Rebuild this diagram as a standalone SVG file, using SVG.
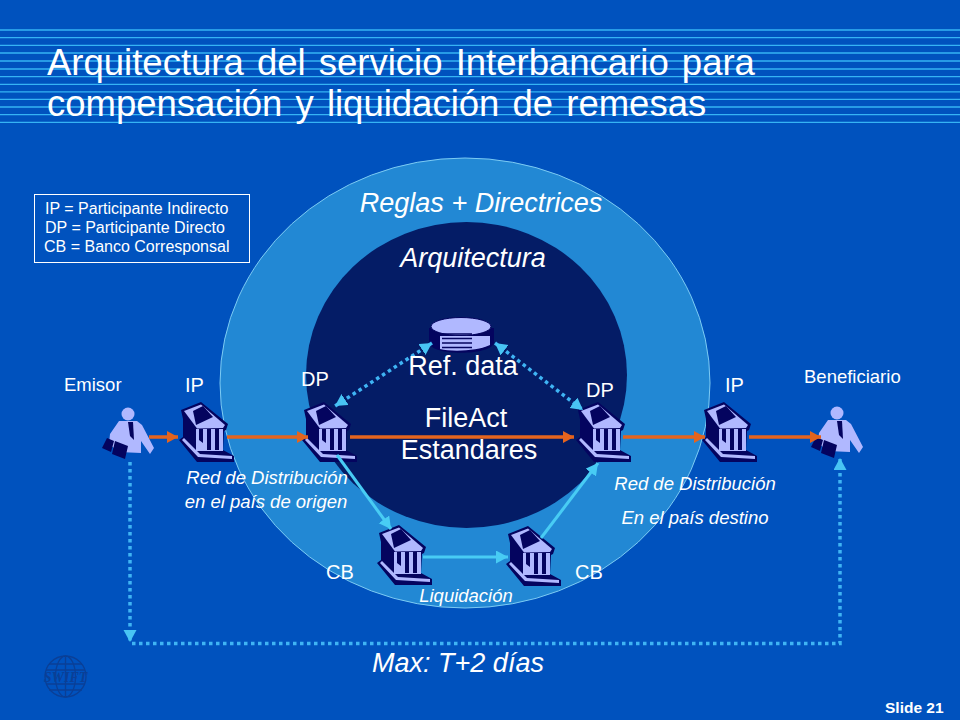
<svg xmlns="http://www.w3.org/2000/svg" width="960" height="720" viewBox="0 0 960 720">
<style>
text{font-family:"Liberation Sans",Arial,sans-serif;fill:#fff}
.st{stroke:#35B4F4;stroke-width:1.3}
.t{font-size:36.500px;word-spacing:3px}
.l{font-size:18.500px}
.n{font-size:20px}
.lg{font-size:16px}
.i{font-style:italic}
.m{text-anchor:middle}
.lab{font-size:18.500px;font-style:italic}
.big{font-size:27px}
.or{stroke:#E4641E;stroke-width:3.500;fill:none;marker-end:url(#ao)}
.cy{stroke:#48CCF4;stroke-width:3;fill:none;marker-end:url(#ac)}
.dot{stroke:#3FB4F4;stroke-width:3.500;fill:none;stroke-dasharray:3.500 3.500}
.dk{fill:#04045F}.lt{fill:#B0B8FF}
</style>
<defs>
<marker id="ao" markerUnits="userSpaceOnUse" markerWidth="13" markerHeight="13" refX="11" refY="6" orient="auto"><path d="M0 0L11 6L0 12z" fill="#E4641E"/></marker>
<marker id="ac" markerUnits="userSpaceOnUse" markerWidth="14" markerHeight="14" refX="12" refY="6.500" orient="auto"><path d="M0 0L12 6.500L0 13z" fill="#48CCF4"/></marker>
<marker id="ad" markerUnits="userSpaceOnUse" markerWidth="14" markerHeight="14" refX="12" refY="6.500" orient="auto-start-reverse"><path d="M0 0L12 6.500L0 13z" fill="#48C4F4"/></marker>
<g id="bank">
<path class="dk" d="M1 7L21 -1L48 21L46 27L44 28L43 47L54 53L54 59L17 59L-1 37L3 34L3 16z"/>
<path class="lt" d="M4 8L21 1.500L45 22L43 25L17 25.500z"/>
<path class="dk" d="M13 8L23 3L33 14L16 22z"/>
<path class="lt" d="M16 26H43V48H16z"/>
<path class="dk" d="M19 26H23V40L19 37zM27 26H31V47H27zM35 26H39V47H35z"/>
<path class="lt" d="M2 37L18 54L52 56L52 53L20 51L4 35z"/>
</g>
<g id="person">
<circle class="lt" cx="26" cy="6" r="6.500"/>
<path class="lt" d="M17 13L35 13L40 17L52 40L48 46L39 33L39 45L17 44L7 36L8 26z"/>
<path class="dk" d="M26 14L31 14L32 32L28 28z"/>
<path class="dk" d="M0 40L5 30L12 33L9 44z"/>
<path class="dk" d="M13 33L26 38L23 51L10 46z"/>
</g>
</defs>
<rect width="960" height="720" fill="#0052BE"/>
<g>
<path class="st" d="M0 30H960M0 37.700H960M0 45.400H960M0 53H960M0 61H960M0 69H960M0 76.700H960M0 84.300H960M0 91.800H960M0 99.300H960M0 107H960M0 114.700H960M0 122.300H960"/>
</g>
<text class="t" x="47" y="75">Arquitectura del servicio Interbancario para</text>
<text class="t" x="47" y="116">compensación y liquidación de remesas</text>
<g id="rings">
<ellipse cx="465" cy="383" rx="245" ry="225" fill="#2288D4" stroke="#7CCBF4" stroke-width="1"/>
<ellipse cx="466.500" cy="375" rx="160.500" ry="153" fill="#041C66"/>
</g>
<g id="legend">
<rect x="34.500" y="194.500" width="215" height="68" fill="none" stroke="#fff"/>
<text class="lg" x="45" y="214">IP = Participante Indirecto</text>
<text class="lg" x="45" y="233">DP = Participante Directo</text>
<text class="lg" x="44" y="252">CB = Banco Corresponsal</text>
</g>
<g id="db">
<path class="dk" d="M429 328V343C432 356 490 356 494 343V328z"/>
<path class="lt" d="M440 336H490V345C478 351 452 352 440 349z"/>
<ellipse cx="461" cy="326.500" rx="30" ry="9" fill="#B0B8FF" stroke="#04045F"/>
<path d="M442 334H472M442 338.500H472M442 343H472M442 347.500H472" stroke="#04045F" stroke-width="1.500"/>
</g>
<g id="bank-ip-l"><use href="#bank" x="180" y="403"/></g>
<g id="bank-dp-l"><use href="#bank" x="303" y="403"/></g>
<g id="bank-dp-r"><use href="#bank" x="577" y="403"/></g>
<g id="bank-ip-r"><use href="#bank" x="703" y="403"/></g>
<g id="bank-cb-l"><use href="#bank" x="378" y="526"/></g>
<g id="bank-cb-r"><use href="#bank" x="507" y="527"/></g>
<g id="emisor"><use href="#person" x="102" y="408"/><text class="l" x="64" y="391">Emisor</text></g>
<g id="beneficiario"><use href="#person" x="811" y="407"/><text class="l" x="804" y="383">Beneficiario</text></g>
<g id="connectors">
<path class="or" d="M149 437H178"/>
<path class="or" d="M227 437H308"/>
<path class="or" d="M350 437H574"/>
<path class="or" d="M623 437H705"/>
<path class="or" d="M749 437H821"/>
<path class="cy" d="M337 455L391 529"/>
<path class="cy" d="M423 557H508"/>
<path class="cy" d="M541 538L598 463"/>
<path class="dot" d="M432 343L335 406" marker-start="url(#ad)" marker-end="url(#ad)"/>
<path class="dot" d="M495 343L583 410" marker-start="url(#ad)" marker-end="url(#ad)"/>
<path class="dot" d="M130 462V642" marker-end="url(#ad)"/>
<path class="dot" d="M132 643.500H840V458" marker-end="url(#ad)"/>
</g>
<text class="n" x="185" y="392">IP</text>
<text class="n" x="725" y="392">IP</text>
<text class="n" x="301" y="386">DP</text>
<text class="n" x="586" y="397">DP</text>
<text class="n" x="326" y="579">CB</text>
<text class="n" x="575" y="579">CB</text>
<text class="i m big" x="481" y="212">Reglas + Directrices</text>
<text class="i m big" x="473" y="267">Arquitectura</text>
<text class="m big" x="463" y="375">Ref. data</text>
<text class="m big" x="466" y="427">FileAct</text>
<text class="m big" x="469" y="459">Estandares</text>
<text class="lab m" x="267" y="484">Red de Distribución</text>
<text class="lab m" x="266" y="508">en el país de origen</text>
<text class="lab m" x="695" y="490">Red de Distribución</text>
<text class="lab m" x="695" y="524">En el país destino</text>
<text class="lab m" x="466" y="602">Liquidación</text>
<text class="i m big" x="458" y="672">Max: T+2 días</text>
<g id="swift" fill="none" stroke="#0A3F96" stroke-width="1.300">
<circle cx="65.500" cy="676.500" r="20.500"/>
<ellipse cx="65.500" cy="676.500" rx="10" ry="20.500"/>
<path d="M65.500 656V697M49 664H82M46 670H85M46 684H85M49 690H82"/>
<text x="65.500" y="682" text-anchor="middle" style="font-family:'Liberation Serif',serif;font-size:14px;font-style:italic;font-weight:bold;fill:#0A3F96;stroke:none">SWIFT</text>
</g>
<text x="885" y="713" style="font-size:15.500px;font-weight:bold">Slide 21</text>
</svg>
